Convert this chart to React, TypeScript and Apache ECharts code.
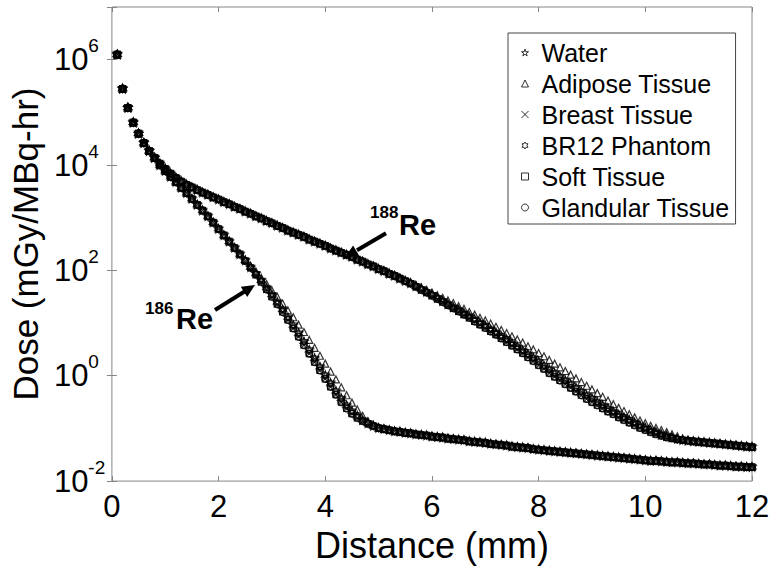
import React, { useEffect, useRef } from 'react';
import * as echarts from 'echarts';

const FONT = '"Liberation Sans", Arial, Helvetica, sans-serif';
const AXIS_COLOR = '#858585';
const MARK_COLOR = '#000';

// Legend entries (materials)
const materials = ['Water', 'Adipose Tissue', 'Breast Tissue', 'BR12 Phantom', 'Soft Tissue', 'Glandular Tissue'];

// Which read-off profile each material follows in the diverging region
const materialProfile = ['mid', 'adipose', 'dense', 'mid', 'dense', 'dense'];

// Distance samples (mm)
const distanceMm = [
  0.1, 0.2, 0.3, 0.4, 0.5, 0.6, 0.7, 0.8, 0.9, 1.0,
  1.1, 1.2, 1.3, 1.4, 1.5, 1.6, 1.7, 1.8, 1.9, 2.0,
  2.1, 2.2, 2.3, 2.4, 2.5, 2.6, 2.7, 2.8, 2.9, 3.0,
  3.1, 3.2, 3.3, 3.4, 3.5, 3.6, 3.7, 3.8, 3.9, 4.0,
  4.1, 4.2, 4.3, 4.4, 4.5, 4.6, 4.7, 4.8, 4.9, 5.0,
  5.1, 5.2, 5.3, 5.4, 5.5, 5.6, 5.7, 5.8, 5.9, 6.0,
  6.1, 6.2, 6.3, 6.4, 6.5, 6.6, 6.7, 6.8, 6.9, 7.0,
  7.1, 7.2, 7.3, 7.4, 7.5, 7.6, 7.7, 7.8, 7.9, 8.0,
  8.1, 8.2, 8.3, 8.4, 8.5, 8.6, 8.7, 8.8, 8.9, 9.0,
  9.1, 9.2, 9.3, 9.4, 9.5, 9.6, 9.7, 9.8, 9.9, 10.0,
  10.1, 10.2, 10.3, 10.4, 10.5, 10.6, 10.7, 10.8, 10.9, 11.0,
  11.1, 11.2, 11.3, 11.4, 11.5, 11.6, 11.7, 11.8, 11.9, 12.0,
];

// log10(dose) values
// shared by both isotopes, 0.1 - 0.8 mm
const sharedHeadLog = [6.10, 5.45, 5.09, 4.81, 4.60, 4.42, 4.27, 4.14];

// Re-188: 0.9 - 5.4 mm (all materials together)
const re188HeadLog = [
  4.03, 3.93, 3.84, 3.76, 3.69, 3.63, 3.58, 3.53, 3.48, 3.44,
  3.39, 3.35, 3.30, 3.26, 3.21, 3.17, 3.12, 3.08, 3.03, 2.99,
  2.94, 2.90, 2.85, 2.81, 2.76, 2.72, 2.68, 2.64, 2.59, 2.55,
  2.51, 2.47, 2.42, 2.38, 2.34, 2.30, 2.26, 2.21, 2.17, 2.12,
  2.08, 2.03, 1.99, 1.94, 1.90, 1.85,
];
// Re-188: 5.5 - 10.9 mm
const re188AdiposeLog = [
  1.81, 1.77, 1.72, 1.68, 1.63, 1.58, 1.53, 1.48, 1.43, 1.38,
  1.32, 1.27, 1.21, 1.16, 1.10, 1.05, 0.99, 0.93, 0.87, 0.81,
  0.75, 0.69, 0.63, 0.56, 0.50, 0.43, 0.37, 0.30, 0.23, 0.16,
  0.09, 0.02, -0.05, -0.12, -0.19, -0.26, -0.33, -0.40, -0.47, -0.54,
  -0.61, -0.67, -0.73, -0.79, -0.85, -0.90, -0.95, -0.99, -1.03, -1.07,
  -1.11, -1.15, -1.19, -1.22, -1.24,
];
const re188MidLog = [
  1.80, 1.76, 1.70, 1.65, 1.59, 1.54, 1.48, 1.42, 1.36, 1.30,
  1.25, 1.19, 1.13, 1.07, 1.01, 0.95, 0.88, 0.82, 0.75, 0.69,
  0.62, 0.55, 0.48, 0.41, 0.34, 0.27, 0.19, 0.12, 0.05, -0.02,
  -0.09, -0.16, -0.23, -0.30, -0.37, -0.43, -0.50, -0.56, -0.62, -0.68,
  -0.74, -0.79, -0.84, -0.89, -0.94, -0.99, -1.03, -1.07, -1.11, -1.14,
  -1.17, -1.20, -1.22, -1.23, -1.24,
];
const re188DenseLog = [
  1.80, 1.75, 1.69, 1.63, 1.58, 1.52, 1.46, 1.40, 1.34, 1.28,
  1.22, 1.16, 1.10, 1.03, 0.97, 0.91, 0.84, 0.78, 0.71, 0.64,
  0.57, 0.50, 0.43, 0.35, 0.28, 0.20, 0.13, 0.05, -0.02, -0.09,
  -0.16, -0.23, -0.30, -0.37, -0.44, -0.50, -0.56, -0.62, -0.68, -0.73,
  -0.79, -0.84, -0.89, -0.94, -0.99, -1.03, -1.07, -1.11, -1.14, -1.17,
  -1.19, -1.21, -1.22, -1.23, -1.24,
];
// Re-188: 11.0 - 12.0 mm
const re188TailLog = [-1.25, -1.26, -1.27, -1.28, -1.29, -1.30, -1.31, -1.32, -1.33, -1.34, -1.35];

// Re-186: 0.9 - 2.4 mm
const re186HeadLog = [
  4.00, 3.89, 3.78, 3.68, 3.57, 3.47, 3.36, 3.25, 3.14, 3.03,
  2.91, 2.79, 2.67, 2.55, 2.43, 2.31,
];
// Re-186: 2.5 - 4.9 mm
const re186AdiposeLog = [
  2.20, 2.09, 1.98, 1.86, 1.74, 1.62, 1.50, 1.37, 1.24, 1.11,
  0.97, 0.83, 0.68, 0.53, 0.38, 0.23, 0.08, -0.07, -0.22, -0.37,
  -0.51, -0.64, -0.76, -0.86, -0.93,
];
const re186MidLog = [
  2.19, 2.06, 1.94, 1.81, 1.67, 1.54, 1.40, 1.26, 1.11, 0.96,
  0.81, 0.65, 0.49, 0.33, 0.17, 0.01, -0.14, -0.29, -0.43, -0.56,
  -0.67, -0.76, -0.84, -0.90, -0.95,
];
const re186DenseLog = [
  2.18, 2.05, 1.92, 1.78, 1.64, 1.50, 1.36, 1.21, 1.06, 0.90,
  0.74, 0.58, 0.42, 0.26, 0.10, -0.06, -0.21, -0.36, -0.50, -0.62,
  -0.72, -0.80, -0.86, -0.91, -0.95,
];
// Re-186: 5.0 - 12.0 mm
const re186TailLog = [
  -0.99, -1.01, -1.03, -1.05, -1.06, -1.08, -1.09, -1.11, -1.12, -1.13,
  -1.15, -1.16, -1.17, -1.19, -1.20, -1.21, -1.22, -1.24, -1.25, -1.26,
  -1.27, -1.29, -1.30, -1.31, -1.32, -1.34, -1.35, -1.36, -1.37, -1.39,
  -1.40, -1.41, -1.42, -1.43, -1.44, -1.45, -1.46, -1.47, -1.48, -1.49,
  -1.50, -1.51, -1.52, -1.53, -1.54, -1.55, -1.56, -1.57, -1.58, -1.59,
  -1.60, -1.61, -1.61, -1.62, -1.63, -1.64, -1.64, -1.65, -1.66, -1.66,
  -1.67, -1.68, -1.68, -1.69, -1.70, -1.70, -1.71, -1.72, -1.72, -1.73,
  -1.73,
];

const re188Middle: Record<string, number[]> = { adipose: re188AdiposeLog, mid: re188MidLog, dense: re188DenseLog };
const re186Middle: Record<string, number[]> = { adipose: re186AdiposeLog, mid: re186MidLog, dense: re186DenseLog };

const PENTAGRAM = 'path://M0,-10L2.245,-3.09L9.51,-3.09L3.633,1.18L5.88,8.09L0,3.82L-5.88,8.09L-3.633,1.18L-9.51,-3.09L-2.245,-3.09Z';
const HEXAGRAM = 'path://M0,-10L2.887,-5L8.66,-5L5.774,0L8.66,5L2.887,5L0,10L-2.887,5L-8.66,5L-5.774,0L-8.66,-5L-2.887,-5Z';
const CROSS = 'path://M-5,-5L5,5M5,-5L-5,5';
const materialSymbols = [PENTAGRAM, 'triangle', CROSS, HEXAGRAM, 'rect', 'circle'];
const materialSymbolSizes = [8, 7, 6, 8, 6, 7];

function logAxisLabel(value: number): string {
  const exp = Math.round(Math.log10(value));
  if (exp > 6) return '';
  return `{b|10}{s|${exp}}`;
}

export default function App() {
  const ref = useRef<HTMLDivElement | null>(null);

  useEffect(() => {
    document.body.style.margin = '0';
    if (!ref.current) return;
    const chart = echarts.init(ref.current, null, { renderer: 'svg', width: 775, height: 568 });

    const series: any[] = [];
    const isotopes = [
      { head: re186HeadLog, middle: re186Middle, tail: re186TailLog },
      { head: re188HeadLog, middle: re188Middle, tail: re188TailLog },
    ];
    isotopes.forEach((iso) => {
      materials.forEach((mat, mi) => {
        const logs = [...sharedHeadLog, ...iso.head, ...iso.middle[materialProfile[mi]], ...iso.tail];
        series.push({
          type: 'scatter',
          name: mat,
          symbol: materialSymbols[mi],
          symbolSize: materialSymbolSizes[mi],
          data: distanceMm.map((d, i) => [d, Math.pow(10, logs[i])]),
          itemStyle: { color: 'rgba(0,0,0,0)', borderColor: MARK_COLOR, borderWidth: 1.2 },
          emphasis: { disabled: true },
          silent: true,
          z: 2,
        });
      });
    });

    const tickStyle = { inside: true, length: 5, lineStyle: { color: AXIS_COLOR, width: 1 } };

    const option: any = {
      animation: false,
      backgroundColor: '#ffffff',
      textStyle: { fontFamily: FONT },
      grid: {
        left: 111, right: 23, top: 7, bottom: 79,
        show: true, borderColor: AXIS_COLOR, borderWidth: 1, backgroundColor: 'transparent',
      },
      legend: {
        data: materials,
        orient: 'vertical',
        left: 508,
        top: 33,
        itemWidth: 7,
        itemHeight: 7,
        itemGap: 6,
        padding: [7, 6, 4, 13],
        borderColor: '#444444',
        borderWidth: 1,
        backgroundColor: '#ffffff',
        selectedMode: false,
        itemStyle: { borderWidth: 1, borderColor: MARK_COLOR, color: 'rgba(0,0,0,0)' },
        textStyle: { fontSize: 25, lineHeight: 25, color: '#000', fontFamily: FONT, padding: [0, 0, 0, 8] },
        z: 5,
      },
      xAxis: [
        {
          type: 'value', position: 'bottom', min: 0, max: 12, interval: 2,
          axisLine: { show: false }, splitLine: { show: false }, axisTick: tickStyle,
          axisLabel: { fontSize: 31, color: '#000', fontFamily: FONT, margin: 10 },
          name: 'Distance (mm)', nameLocation: 'middle', nameGap: 36,
          nameTextStyle: { fontSize: 36, color: '#000', fontFamily: FONT },
        },
        {
          type: 'value', position: 'top', min: 0, max: 12, interval: 2,
          axisLine: { show: false }, splitLine: { show: false }, axisTick: tickStyle,
          axisLabel: { show: false },
        },
      ],
      yAxis: [
        {
          type: 'log', logBase: 100, position: 'left', min: 0.01, max: 1e7,
          axisLine: { show: false }, splitLine: { show: false }, axisTick: tickStyle,
          axisLabel: {
            formatter: logAxisLabel,
            align: 'left',
            margin: 58,
            rich: {
              b: { fontSize: 31, lineHeight: 31, color: '#000', fontFamily: FONT },
              s: { fontSize: 19, lineHeight: 19, padding: [0, 0, 28, 0], color: '#000', fontFamily: FONT },
            },
          },
          name: 'Dose (mGy/MBq-hr)', nameLocation: 'middle', nameGap: 66,
          nameTextStyle: { fontSize: 35, color: '#000', fontFamily: FONT },
        },
        {
          type: 'log', logBase: 100, position: 'right', min: 0.01, max: 1e7,
          axisLine: { show: false }, splitLine: { show: false }, axisTick: tickStyle,
          axisLabel: { show: false },
        },
      ],
      graphic: [
        {
          type: 'text', x: 370, y: 212, z: 10,
          style: { text: '188', fontSize: 17, fontWeight: 'bold', fontFamily: FONT, fill: '#000', textAlign: 'left', align: 'left', textVerticalAlign: 'middle', verticalAlign: 'middle' },
        },
        {
          type: 'text', x: 399, y: 225, z: 10,
          style: { text: 'Re', fontSize: 29, fontWeight: 'bold', fontFamily: FONT, fill: '#000', textAlign: 'left', align: 'left', textVerticalAlign: 'middle', verticalAlign: 'middle' },
        },
        {
          type: 'line', z: 10,
          shape: { x1: 386, y1: 233.3, x2: 357, y2: 250.2 },
          style: { stroke: '#000', lineWidth: 4 },
        },
        {
          type: 'polygon', z: 10,
          shape: { points: [[345, 257.3], [359.2, 255.8], [353.1, 245.5]] },
          style: { fill: '#000' },
        },
        {
          type: 'text', x: 145, y: 308, z: 10,
          style: { text: '186', fontSize: 17, fontWeight: 'bold', fontFamily: FONT, fill: '#000', textAlign: 'left', align: 'left', textVerticalAlign: 'middle', verticalAlign: 'middle' },
        },
        {
          type: 'text', x: 176, y: 319, z: 10,
          style: { text: 'Re', fontSize: 29, fontWeight: 'bold', fontFamily: FONT, fill: '#000', textAlign: 'left', align: 'left', textVerticalAlign: 'middle', verticalAlign: 'middle' },
        },
        {
          type: 'line', z: 10,
          shape: { x1: 215, y1: 310, x2: 245, y2: 291.3 },
          style: { stroke: '#000', lineWidth: 4 },
        },
        {
          type: 'polygon', z: 10,
          shape: { points: [[255, 285], [247.2, 297.0], [240.8, 286.8]] },
          style: { fill: '#000' },
        },
      ],
      series,
    };

    chart.setOption(option);
    return () => {
      chart.dispose();
    };
  }, []);

  return (
    <div
      ref={ref}
      style={{ position: 'absolute', left: 0, top: 0, width: '775px', height: '568px', background: '#fff' }}
    />
  );
}
